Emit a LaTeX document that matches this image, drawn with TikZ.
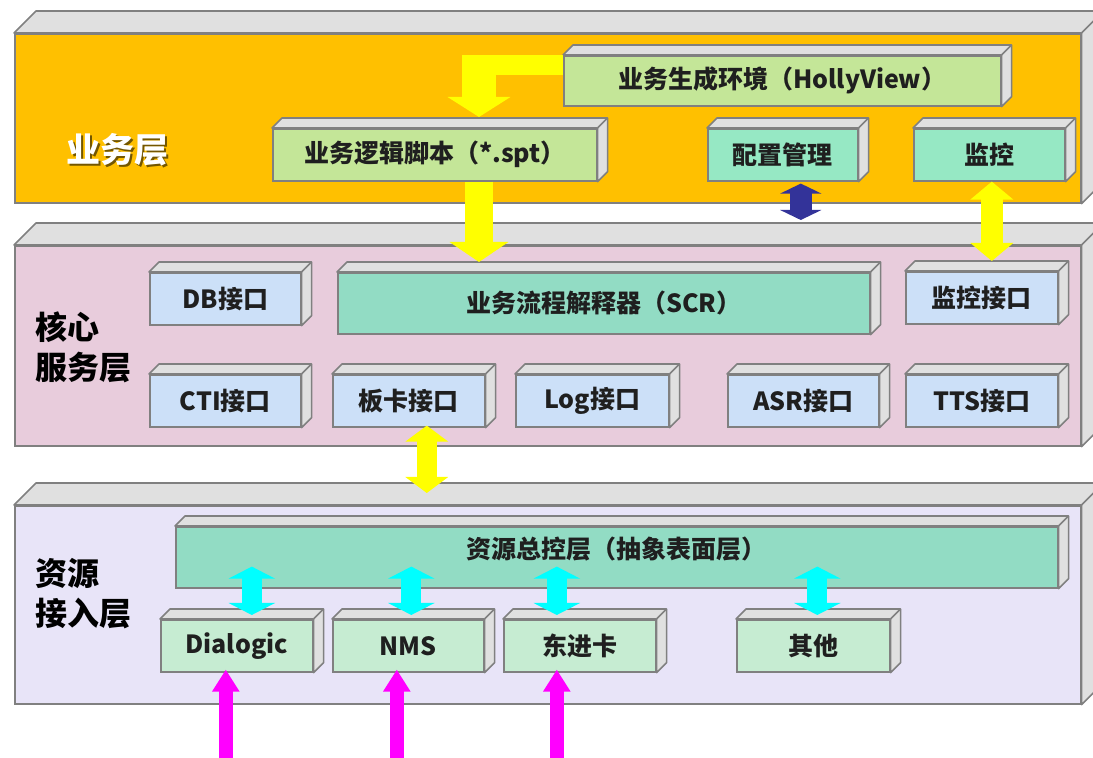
\documentclass[tikz,border=0pt]{standalone}
\usepackage{fontspec}
\newfontfamily\cjk{Noto Sans CJK SC}
\usetikzlibrary{arrows.meta,calc,positioning}

\definecolor{edge}{RGB}{128,128,128}
\definecolor{sidegray}{RGB}{224,224,224}
\definecolor{bizorange}{RGB}{255,192,0}
\definecolor{corepink}{RGB}{232,204,220}
\definecolor{reslilac}{RGB}{232,228,248}
\definecolor{envgreen}{RGB}{196,230,152}
\definecolor{mint}{RGB}{150,232,196}
\definecolor{scrteal}{RGB}{146,220,196}
\definecolor{ifblue}{RGB}{204,224,248}
\definecolor{cardgreen}{RGB}{198,236,210}
\definecolor{navy}{RGB}{51,51,153}
\definecolor{flowyellow}{RGB}{255,255,0}
\definecolor{flowcyan}{RGB}{0,255,255}
\definecolor{flowmagenta}{RGB}{255,0,255}

\tikzset{
  tier/.style={draw=edge, line width=0.8pt, anchor=north west, inner sep=0pt},
  blk/.style={draw=edge, line width=0.8pt, anchor=north west, inner sep=0pt, text=black!88,
    font=\cjk\bfseries\fontsize{12.5}{15}\selectfont},
  sz/.style 2 args={minimum width=#1, minimum height=#2},
  side/.style={draw=edge, line width=0.8pt, fill=sidegray, line join=round},
  tag/.style={font=\cjk\bfseries\fontsize{16}{20}\selectfont, align=left, anchor=west},
}

\begin{document}
\begin{tikzpicture}[x=0.5pt,y=-0.5pt]
\path[use as bounding box, clip] (0,0) rectangle (1093,758);

% three layers
\node[tier, fill=bizorange, sz={533pt}{84.5pt}] (l1) at (14,33) {};
\node[tier, fill=corepink, sz={533pt}{100pt}] (l2) at (14,245) {};
\node[tier, fill=reslilac, sz={533pt}{99pt}] (l3) at (14,505) {};
\foreach \n in {l1,l2,l3} {
  \draw[side] (\n.north west) -- ++(11pt,11pt) -- ([shift={(11pt,11pt)}]\n.north east)
    -- ([shift={(11pt,11pt)}]\n.south east) -- (\n.south east) -- (\n.north east) -- cycle;
  \draw[side] (\n.north east) -- ++(11pt,11pt);
}

% layer names
\node[tag, font=\cjk\bfseries\fontsize{17}{20}\selectfont, text=black, opacity=0.55] (bizs) at (61,152) {业务层};
\node[tag, font=\cjk\bfseries\fontsize{17}{20}\selectfont, text=white] (biz) at (59,150) {业务层};
\node[tag] (core) at (28,347) {核心\\服务层};
\node[tag] (acc) at (28,594) {资源\\接入层};

% business layer boxes
\node[blk, fill=envgreen, sz={218.5pt}{25pt}] (env) at (563,55) {业务生成环境（HollyView）};
\node[blk, fill=envgreen, sz={162pt}{26pt}] (spt) at (272,128) {业务逻辑脚本（*.spt）};
\node[blk, fill=mint, sz={75pt}{26pt}] (cfg) at (707,128) {配置管理};
\node[blk, fill=mint, sz={75.5pt}{26pt}] (mon) at (913,128) {监控};
% core layer boxes
\node[blk, fill=ifblue, sz={75.5pt}{26pt}] (db) at (149,272) {DB接口};
\node[blk, fill=scrteal, sz={266pt}{30.5pt}] (scr) at (337,272) {业务流程解释器（SCR）\hspace{26pt}};
\node[blk, fill=ifblue, sz={76pt}{26pt}] (monif) at (905,271) {监控接口};
\node[blk, fill=ifblue, sz={75.5pt}{26pt}] (cti) at (149,374) {CTI接口};
\node[blk, fill=ifblue, sz={76pt}{26pt}] (card) at (332,374) {板卡接口};
\node[blk, fill=ifblue, sz={76.5pt}{26pt}] (log) at (515,374) {Log接口};
\node[blk, fill=ifblue, sz={75.5pt}{26pt}] (asr) at (727,374) {ASR接口};
\node[blk, fill=ifblue, sz={76pt}{26pt}] (tts) at (905,374) {TTS接口};
% resource layer boxes
\node[blk, fill=scrteal, sz={441pt}{30.5pt}, text depth=10pt] (ctl) at (175,526) {资源总控层（抽象表面层）\hspace{28pt}};
\node[blk, fill=cardgreen, sz={76pt}{26pt}] (dlg) at (160,619) {Dialogic};
\node[blk, fill=cardgreen, sz={75.5pt}{26pt}] (nms) at (332,619) {NMS};
\node[blk, fill=cardgreen, sz={76pt}{26pt}] (djk) at (503,619) {东进卡};
\node[blk, fill=cardgreen, sz={76.5pt}{26pt}] (oth) at (736,619) {其他};

\foreach \n in {env,spt,cfg,mon,db,scr,monif,cti,card,log,asr,tts,ctl,dlg,nms,djk,oth} {
  \draw[side] (\n.north west) -- ++(5pt,5pt) -- ([shift={(5pt,5pt)}]\n.north east)
    -- ([shift={(5pt,5pt)}]\n.south east) -- (\n.south east) -- (\n.north east) -- cycle;
  \draw[side] (\n.north east) -- ++(5pt,5pt);
}

% HollyView -> script
\coordinate (c1) at (462,65);
\coordinate (c2) at (479,55);
\draw[flowyellow, line width=10pt] ([yshift=-5pt]env.north west) -- (c1);
\draw[flowyellow, line width=17pt, -{Triangle[width=31pt,length=10pt]}, shorten >=5.5pt] (c2) -- (c2 |- spt.north);
% script -> interpreter
\draw[flowyellow, line width=14pt, -{Triangle[width=29pt,length=10pt]}, shorten >=5pt] (spt.south -| c2) -- (scr.north -| c2);
% config <-> core
\draw[navy, line width=11pt, {Triangle[width=20.5pt,length=5pt]}-{Triangle[width=20.5pt,length=5pt]},
  shorten >=12.5pt, shorten <=1pt] ([xshift=9pt]cfg.south) -- ([xshift=9pt]cfg.south |- l2.north);
% monitor <-> monitor interface
\draw[flowyellow, line width=11pt, {Triangle[width=21pt,length=9pt]}-{Triangle[width=21pt,length=9pt]},
  shorten >=5pt] ([xshift=1.25pt]mon.south) -- ([xshift=1.25pt]mon.south |- monif.north);
% card <-> resource layer
\draw[flowyellow, line width=10pt, {Triangle[width=21pt,length=8pt]}-{Triangle[width=21pt,length=8pt]},
  shorten >=6pt, shorten <=-1pt] ([xshift=9pt]card.south) -- ([xshift=9pt]card.south |- l3.north);
% boards <-> control layer
\foreach \n/\dx in {dlg/7.5pt,nms/1.5pt,djk/-11.5pt,oth/2pt}
  \draw[flowcyan, line width=10pt, {Triangle[width=23pt,length=6pt]}-{Triangle[width=23pt,length=6pt]}]
    ($(\n.north)+(\dx,2pt)$) -- ($(\n.north |- ctl.south)+(\dx,11pt)$);
% lines in
\coordinate (feed) at (0,770);
\foreach \n/\dx in {dlg/-5.5pt,nms/-5.75pt,djk/-11.5pt}
  \draw[flowmagenta, line width=7pt, -{Triangle[width=13pt,length=11pt]}]
    ($(\n.south |- feed)+(\dx,0)$) -- ($(\n.south)+(\dx,1.5pt)$);
\end{tikzpicture}
\end{document}
